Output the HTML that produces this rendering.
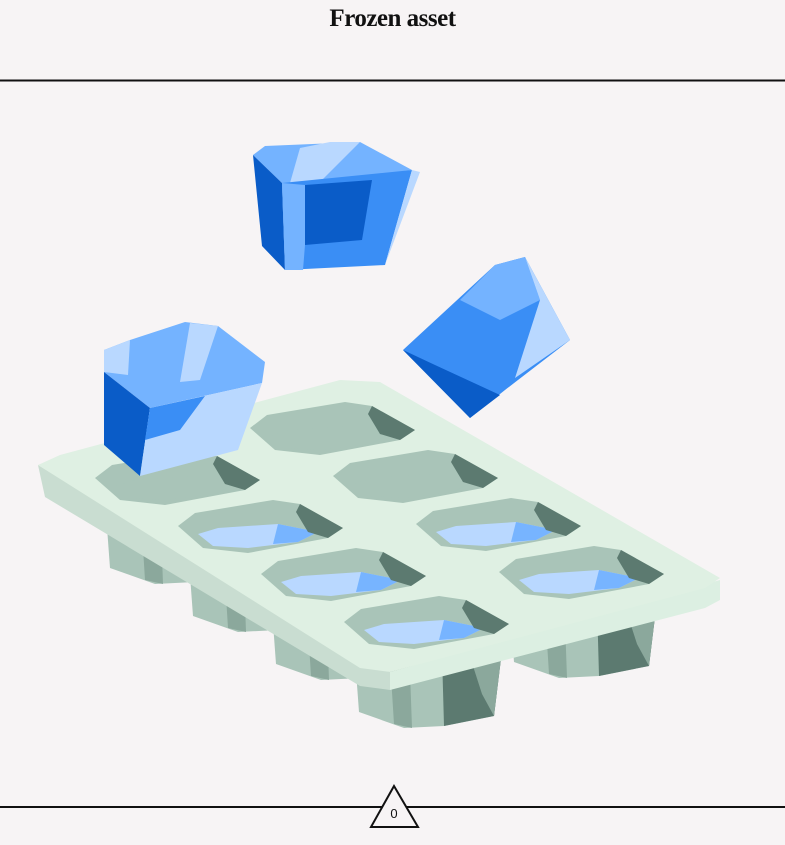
<!DOCTYPE html>
<html><head><meta charset="utf-8"><style>
html,body{margin:0;padding:0;background:#f7f4f5;}
body{width:785px;height:845px;overflow:hidden;position:relative;font-family:"Liberation Serif",serif;}
#title{position:absolute;top:5px;left:0;width:785px;text-align:center;font-weight:bold;font-size:25px;color:#111;letter-spacing:-0.5px;}
</style></head><body>
<div id="title">Frozen asset</div>
<svg width="785" height="845" style="position:absolute;left:0;top:0">
<line x1="0" y1="80.5" x2="785" y2="80.5" stroke="#111" stroke-width="2"/>
<line x1="0" y1="807" x2="785" y2="807" stroke="#111" stroke-width="2"/>
<polygon points="394,786 371,827 418,827" fill="#f7f4f5" stroke="#111" stroke-width="2"/>
<text x="394" y="818" font-family="Liberation Sans, sans-serif" font-size="13" text-anchor="middle" fill="#111">0</text>

<g id="boxes"></g>
<g>
<polygon points="38,465 370,668 390,672 390,690 360,686 45,497" fill="#c9ddd1"/>
<polygon points="390,672 720,580 720,600 705,608 390,690" fill="#dcefe2"/>
<polygon points="38,465 60,455 340,380 380,382 720,578 705,588 390,672 360,668" fill="#dff0e3"/>
</g>
<g id="wells"></g>

<g>
<polygon points="253,155 265,146 360,142 412,170 305,185 282,183" fill="#74b3ff"/>
<polygon points="300,148 330,142 360,142 320,182 290,183" fill="#b9d8ff"/>
<polygon points="253,155 282,183 285,270 262,246" fill="#0a5cc8"/>
<polygon points="282,183 412,170 385,265 285,270" fill="#3a8ef5"/>
<polygon points="305,185 372,180 362,240 305,245" fill="#0a5cc8"/>
<polygon points="282,183 305,185 305,245 303,270 285,270" fill="#74b3ff"/>
<polygon points="412,170 420,172 385,265" fill="#b9d8ff"/>
</g>
<g>
<polygon points="403,350 495,265 525,257 570,340 505,390 470,418" fill="#3a8ef5"/>
<polygon points="460,300 495,265 525,257 540,300 500,320" fill="#74b3ff"/>
<polygon points="403,350 470,418 500,395 435,365" fill="#0a5cc8"/>
<polygon points="525,257 570,340 515,378 540,300" fill="#b9d8ff"/>
</g>
<g>
<polygon points="104,350 130,340 185,322 218,326 265,362 262,383 150,408 104,372" fill="#74b3ff"/>
<polygon points="104,350 130,340 128,375 104,372" fill="#b9d8ff"/>
<polygon points="190,323 218,326 200,380 180,382" fill="#b9d8ff"/>
<polygon points="104,372 150,408 140,476 104,445" fill="#0a5cc8"/>
<polygon points="150,408 262,383 238,450 140,476" fill="#b9d8ff"/>
<polygon points="150,408 205,396 180,430 145,440" fill="#3a8ef5"/>
</g>
</svg>
<script>
const NS='http://www.w3.org/2000/svg';
const colOrigins=[[95,450],[250,400]];
const step=[83,48];
function poly(g,pts,fill){const p=document.createElementNS(NS,'polygon');p.setAttribute('points',pts.map(q=>q.join(',')).join(' '));p.setAttribute('fill',fill);g.appendChild(p);return p;}
function tr(pts,x,y){return pts.map(p=>[p[0]+x,p[1]+y]);}
const wellsG=document.getElementById('wells'),boxG=document.getElementById('boxes');
const outer=[[0,28],[17,15],[95,2],[122,6],[165,30],[150,40],[70,55],[25,50]];
const bottom=[[20,36],[40,30],[100,26],[140,34],[120,44],[70,50],[35,48]];
const dark=[[122,6],[165,30],[150,40],[130,34],[118,14]];
for(let c=0;c<2;c++)for(let k=0;k<4;k++){
 const x=colOrigins[c][0]+k*step[0], y=colOrigins[c][1]+k*step[1];
 if(c===0||k===3){const b=document.createElementNS(NS,'g');
  
  
  poly(b,tr([[10,50],[160,40],[150,122],[100,132],[60,134],[15,118]],x,y),'#a9c4b8');
  poly(b,tr([[45,50],[65,50],[68,134],[50,130]],x,y),'#8ba89c');
  poly(b,tr([[100,45],[160,40],[150,122],[100,132],[98,60]],x,y),'#5c7a70');
  poly(b,tr([[120,44],[160,40],[150,122],[138,100]],x,y),'#8ba89c');
  boxG.appendChild(b);}
 const g=document.createElementNS(NS,'g');
 
 
 poly(g,tr(outer,x,y),'#a9c4b8');
 const filled=!(c===0&&k===0)&&!(c===1&&k<2);
 poly(g,tr(bottom,x,y),filled?'#b9d8ff':'#a9c4b8');
 if(filled)poly(g,tr([[100,26],[140,34],[120,44],[95,46]],x,y),'#77b4ff');
 poly(g,tr(dark,x,y),'#5c7a70');
 wellsG.appendChild(g);
}
</script>
</body></html>
